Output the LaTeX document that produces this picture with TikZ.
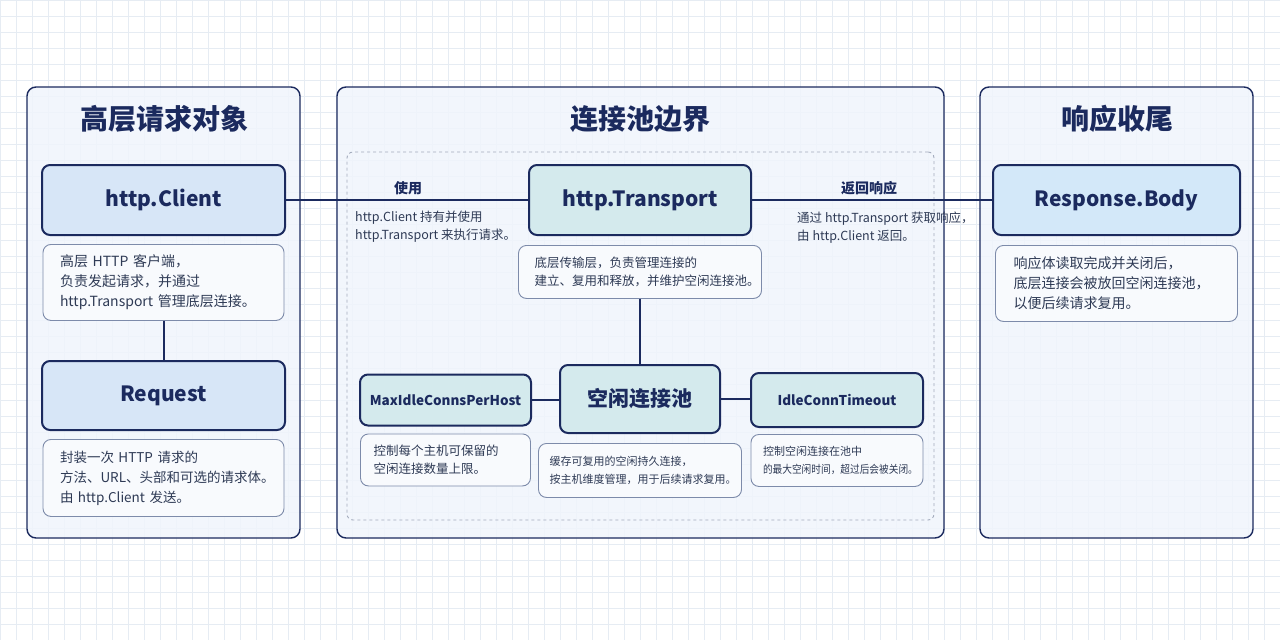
\documentclass[tikz,border=0pt]{standalone}
\usepackage{fontspec}
\setmainfont{Noto Sans CJK SC}
\usetikzlibrary{positioning}
\definecolor{navy}{HTML}{1B2A5E}
\definecolor{inkgray}{HTML}{2E3A55}
\definecolor{gridc}{HTML}{E6ECF3}
\definecolor{panelfill}{HTML}{F0F5FC}
\definecolor{notefill}{HTML}{F8FAFD}
\definecolor{noteline}{HTML}{7D8BAA}
\definecolor{clientfill}{HTML}{D7E6F7}
\definecolor{poolfill}{HTML}{D4EAED}
\definecolor{bodyfill}{HTML}{D3E8F9}
\definecolor{dashline}{HTML}{A3ACBD}

\begin{document}
\begin{tikzpicture}[
      x=1pt, y=-1pt,
      every node/.append style={text=navy},
      panel/.style={rectangle, rounded corners=9pt, draw=navy, line width=1.4pt,
                    fill=panelfill, fill opacity=0.85, text opacity=1},
      ptitle/.style={font=\fontsize{28}{32}\selectfont\bfseries},
      box/.style={rectangle, rounded corners=8pt, draw=navy, line width=2pt,
                  font=\fontsize{21}{24}\selectfont\bfseries},
      cbox/.style={box, fill=clientfill},
      tbox/.style={box, fill=poolfill},
      rbox/.style={box, fill=bodyfill},
      sbox/.style={tbox, font=\fontsize{13.5}{16}\selectfont\bfseries},
      note/.style={rectangle, rounded corners=8pt, draw=noteline, line width=0.9pt,
                   fill=notefill, text=inkgray, align=left, inner xsep=17pt,
                   font=\fontsize{14}{20}\selectfont},
      snote/.style={note, font=\fontsize{12.5}{18.5}\selectfont},
      elabel/.style={font=\fontsize{14}{16}\selectfont\bfseries},
      etext/.style={text=inkgray, align=left, anchor=north west, inner sep=0pt,
                    font=\fontsize{12.5}{17.5}\selectfont},
      link/.style={draw=navy, line width=2pt},
    ]
      \useasboundingbox (0,0) rectangle (1280,640);
      \fill[white] (0,0) rectangle (1280,640);
      \foreach \gx in {0,16,...,1280}
        \draw[gridc, line width=0.6pt] (\gx,0) -- (\gx,640);
      \foreach \gy in {0,16,...,640}
        \draw[gridc, line width=0.6pt] (0,\gy) -- (1280,\gy);

      % three stages
      \node[panel, minimum width=273, minimum height=451] (reqpanel) at (163.5,312.5) {};
      \node[panel, minimum width=607, minimum height=451] (poolpanel) at (640.5,312.5) {};
      \node[panel, minimum width=273, minimum height=451] (resppanel) at (1116.5,312.5) {};
      \node[rectangle, rounded corners=6pt, draw=dashline, dashed, line width=0.9pt,
            minimum width=587, minimum height=368] (poolzone) at (640.5,336) {};

      \node[ptitle] (reqtitle) at (164,119) {高层请求对象};
      \node[ptitle] (pooltitle) at (640,119) {连接池边界};
      \node[ptitle] (resptitle) at (1117,119) {响应收尾};

      % request side
      \node[cbox, minimum width=243, minimum height=70] (client) at (163.5,200) {http.Client};
      \node[note, text width=207pt, minimum width=241, minimum height=76, below=8pt of client] (clientnote)
        {高层 HTTP 客户端，\\负责发起请求，并通过\\\mbox{http.Transport 管理底层连接。}};
      \node[cbox, minimum width=243, minimum height=69] (request) at (163.5,395.5) {Request};
      \node[note, font=\fontsize{13.5}{20}\selectfont, text width=207pt, minimum width=241,
            minimum height=77, below=8pt of request] (requestnote)
        {封装一次 HTTP 请求的\\\mbox{方法、URL、头部和可选的请求体。}\\由 http.Client 发送。};

      % pool side
      \node[tbox, minimum width=222, minimum height=70] (transport) at (640,200) {http.Transport};
      \node[snote, inner xsep=16pt, text width=211pt, minimum width=243, minimum height=53,
            below=9pt of transport] (transportnote)
        {底层传输层，负责管理连接的\\\mbox{建立、复用和释放，并维护空闲连接池。}};
      \node[tbox, minimum width=160, minimum height=68] (pool) at (640,399) {空闲连接池};
      \node[snote, font=\fontsize{11}{17.5}\selectfont, inner xsep=11pt, text width=181pt,
            minimum width=203, minimum height=54, below=9pt of pool] (poolnote)
        {缓存可复用的空闲持久连接，\\\mbox{按主机维度管理，用于后续请求复用。}};
      \node[sbox, minimum width=171, minimum height=51] (maxidle) at (445.5,400) {MaxIdleConnsPerHost};
      \node[snote, inner xsep=13pt, text width=144pt, minimum width=170, minimum height=52,
            below=7pt of maxidle] (maxidlenote)
        {控制每个主机可保留的\\空闲连接数量上限。};
      \node[sbox, minimum width=172, minimum height=54] (idletimeout) at (837,400) {IdleConnTimeout};
      \node[snote, font=\fontsize{11}{17.5}\selectfont, inner xsep=12pt, text width=148pt,
            minimum width=172, minimum height=52, below=6pt of idletimeout] (idlenote)
        {控制空闲连接在池中\\\scalebox{0.88}[1]{的最大空闲时间，超过后会被关闭。}};

      % response side
      \node[rbox, minimum width=247, minimum height=70] (respbody) at (1116.5,200) {Response.Body};
      \node[note, inner xsep=18pt, text width=206pt, minimum width=242, minimum height=76,
            below=9pt of respbody] (respnote)
        {响应体读取完成并关闭后，\\底层连接会被放回空闲连接池，\\以便后续请求复用。};

      % links
      \draw[link] (client.east) -- (transport.west);
      \draw[link] (transport.east) -- (respbody.west);
      \draw[link] (clientnote.south) -- (request.north);
      \draw[link] (transportnote.south) -- (pool.north);
      \draw[link] (maxidle.east) -- (maxidle.east -| pool.west);
      \draw[link] (pool.east) -- (pool.east -| idletimeout.west);

      \node[elabel] (uselabel) at (408,188) {使用};
      \node[etext] (usetext) at (355,211) {http.Client 持有并使用\\http.Transport 来执行请求。};
      \node[elabel] (backlabel) at (869,188) {返回响应};
      \node[etext] (backtext) at (797,212) {通过 http.Transport 获取响应，\\由 http.Client 返回。};
    \end{tikzpicture}
\end{document}
